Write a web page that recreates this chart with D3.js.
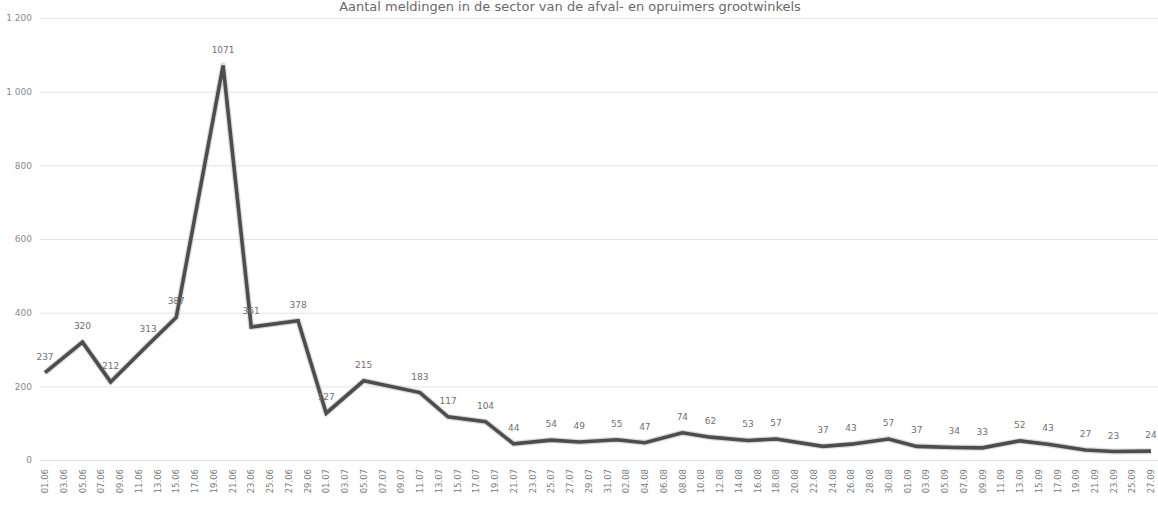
<!DOCTYPE html>
<html>
<head>
<meta charset="utf-8">
<script src="https://cdn.jsdelivr.net/npm/d3@7"></script>
<style>
  html, body { margin: 0; padding: 0; background: #fff; }
  svg { display: block; }
  text { font-family: "DejaVu Sans", sans-serif; }
</style>
</head>
<body>
<div id="chart"></div>
<script>
// ---- data ----
const title = "Aantal meldingen in de sector van de afval- en opruimers grootwinkels";
const dates = ["01.06","05.06","08.06","12.06","15.06","20.06","23.06","28.06","01.07","05.07",
               "11.07","14.07","18.07","21.07","25.07","28.07","01.08","04.08","08.08","11.08",
               "15.08","18.08","23.08","26.08","30.08","02.09","06.09","09.09","13.09","16.09",
               "20.09","23.09","27.09"];
const values = [237, 320, 212, 313, 387, 1071, 361, 378, 127, 215,
                183, 117, 104, 44, 54, 49, 55, 47, 74, 62,
                53, 57, 37, 43, 57, 37, 34, 33, 52, 43,
                27, 23, 24];
const yTicks = [0, 200, 400, 600, 800, 1000, 1200];
const xTickFirst = "01.06";
const xTickLast = "27.09";
const year = "2021";

// ---- chart ----
const W = 1158, H = 511;
const parse = d3.timeParse("%d.%m.%Y");
const data = dates.map((d, i) => ({ date: parse(d + "." + year), value: values[i] }));

const svg = d3.select("#chart").append("svg").attr("width", W).attr("height", H);

const x = d3.scaleTime()
  .domain([parse(xTickFirst + "." + year), parse(xTickLast + "." + year)])
  .range([45, 1151]);
const y = d3.scaleLinear().domain([0, 1200]).range([460, 18]);

const fmt = v => v >= 1000 ? d3.format(",")(v).replace(",", " ") : String(v);

// gridlines + y labels
const yAxis = d3.axisLeft(y).tickValues(yTicks).tickSize(-(W - 40)).tickFormat(fmt);
const gy = svg.append("g").attr("transform", "translate(40,0)").call(yAxis);
gy.select(".domain").remove();
gy.selectAll(".tick line").attr("stroke", "#e4e4e4").attr("stroke-width", 1);
gy.selectAll(".tick text").attr("x", -8).attr("fill", "#8a8a8a")
  .style("font-size", "9px");

// x axis labels
const xTicks = d3.timeDay.range(parse(xTickFirst + "." + year),
                                d3.timeDay.offset(parse(xTickLast + "." + year), 1), 2);
const xAxis = d3.axisBottom(x).tickValues(xTicks).tickSize(0).tickFormat(d3.timeFormat("%d.%m"));
const gx = svg.append("g").attr("transform", "translate(0,467)").call(xAxis);
gx.select(".domain").remove();
gx.selectAll(".tick text")
  .attr("transform", "rotate(-90)")
  .attr("text-anchor", "end")
  .attr("x", -2).attr("y", 0).attr("dy", "0.32em")
  .attr("fill", "#7a7a7a")
  .style("font-size", "8.5px");

// title
svg.append("text").attr("x", 570).attr("y", 11).attr("text-anchor", "middle")
  .attr("fill", "#6a6a6a").style("font-size", "13px").text(title);

// line
const line = d3.line().x(d => x(d.date)).y(d => y(d.value));
svg.append("path").datum(data).attr("d", line)
  .attr("fill", "none").attr("stroke", "#b8b8b8").attr("stroke-width", 6)
  .attr("stroke-linejoin", "round").attr("opacity", 0.5);
svg.append("path").datum(data).attr("d", line)
  .attr("fill", "none").attr("stroke", "#4d4d4d").attr("stroke-width", 3.6)
  .attr("stroke-linejoin", "miter");

// data labels
svg.append("g").selectAll("text").data(data).enter().append("text")
  .attr("x", d => x(d.date))
  .attr("y", d => y(d.value) - 13)
  .attr("text-anchor", "middle")
  .attr("fill", "#707070")
  .style("font-size", "9px")
  .text(d => d.value);
</script>
</body>
</html>
